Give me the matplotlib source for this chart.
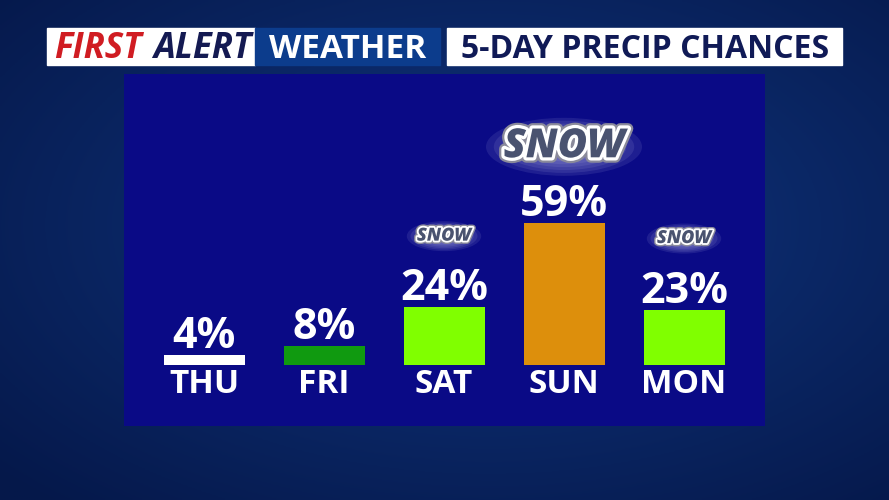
import numpy as np
import matplotlib
matplotlib.use("Agg")
import matplotlib.pyplot as plt
from matplotlib.patches import Rectangle, Ellipse
import matplotlib.patheffects as pe

days = ["THU", "FRI", "SAT", "SUN", "MON"]
chances = [4, 8, 24, 59, 23]
bar_colors = ["#ffffff", "#109a10", "#80ff00", "#dd8f0c", "#80ff00"]
snow_days = ["SAT", "SUN", "MON"]
big_snow_day = "SUN"

W, H = 889, 500
FONT = "Open Sans"

fig = plt.figure(figsize=(W / 100, H / 100), dpi=100)

# background: dark blue gradient
bg = fig.add_axes([0, 0, 1, 1])
yy, xx = np.mgrid[0:1:200j, 0:1:356j]
r = np.sqrt((xx - 0.55) ** 2 + (yy - 0.45) ** 2)
c0 = np.array([0x10, 0x36, 0x80]) / 255
c1 = np.array([0x05, 0x18, 0x4a]) / 255
t = np.clip(r / 0.75, 0, 1)[..., None]
bg.imshow(c0 * (1 - t) + c1 * t, extent=[0, W, H, 0], aspect="auto")
bg.set_xlim(0, W)
bg.set_ylim(H, 0)
bg.axis("off")

# header boxes
bg.add_patch(Rectangle((47, 28), 208, 37, color="white"))
bg.add_patch(Rectangle((255, 28), 185, 37, color="#0c3c8c"))
bg.add_patch(Rectangle((447, 28), 395, 37, color="white"))
bg.text(54, 58, "FIRST", color="#d01c22", fontsize=25, fontweight="bold",
        style="italic", family=FONT, ha="left", va="baseline")
bg.text(251, 58, "ALERT", color="#141a52", fontsize=25, fontweight="bold",
        style="italic", family=FONT, ha="right", va="baseline")
bg.text(348, 58, "WEATHER", color="white", fontsize=24, fontweight="bold",
        family=FONT, ha="center", va="baseline")
bg.text(645, 58, "5-DAY PRECIP CHANCES", color="#101a56", fontsize=23,
        fontweight="bold", family=FONT, ha="center", va="baseline")

# panel axes
px_per = 2.41
y_top = (365 - 74) / px_per
y_bot = -(426 - 365) / px_per
x_left = (124 - 204) / 120
x_right = (765 - 204) / 120
ax = fig.add_axes([124 / W, (H - 426) / H, 641 / W, 352 / H])
ax.set_facecolor("#0a0a86")
ax.set_xlim(x_left, x_right)
ax.set_ylim(y_bot, y_top)
for s in ax.spines.values():
    s.set_visible(False)
ax.set_xticks([])
ax.set_yticks([])

x = np.arange(len(days))
ax.bar(x, chances, width=0.675, color=bar_colors, zorder=2)

for xi, d, v in zip(x, days, chances):
    ax.text(xi, v + 7 / px_per, f"{v}%", color="white", fontsize=31,
            fontweight="bold", family=FONT, ha="center", va="baseline")
    ax.text(xi, -28 / px_per, d, color="white", fontsize=24,
            fontweight="bold", family=FONT, ha="center", va="baseline")

    if d in snow_days:
        big = d == big_snow_day
        sy = v + (76 if big else 71) / px_per
        ew, eh, fs = (1.3, 58 / px_per, 29) if big else (0.62, 30 / px_per, 13)
        for k in range(10):
            f = 1 - k / 10
            ax.add_patch(Ellipse((xi, sy), ew * f, eh * f, color="#c8c8ee",
                                 alpha=0.11, lw=0, zorder=3))
        ax.text(xi, sy, "SNOW", color="#4a5370", fontsize=fs,
                fontweight="heavy", style="italic", family=FONT,
                ha="center", va="center", zorder=4,
                path_effects=[
                    pe.withStroke(linewidth=fs / 5 + 2, foreground="#8a8a9a"),
                    pe.withStroke(linewidth=fs / 8 + 1, foreground="white"),
                ])

fig.savefig("out.png", dpi=100)
